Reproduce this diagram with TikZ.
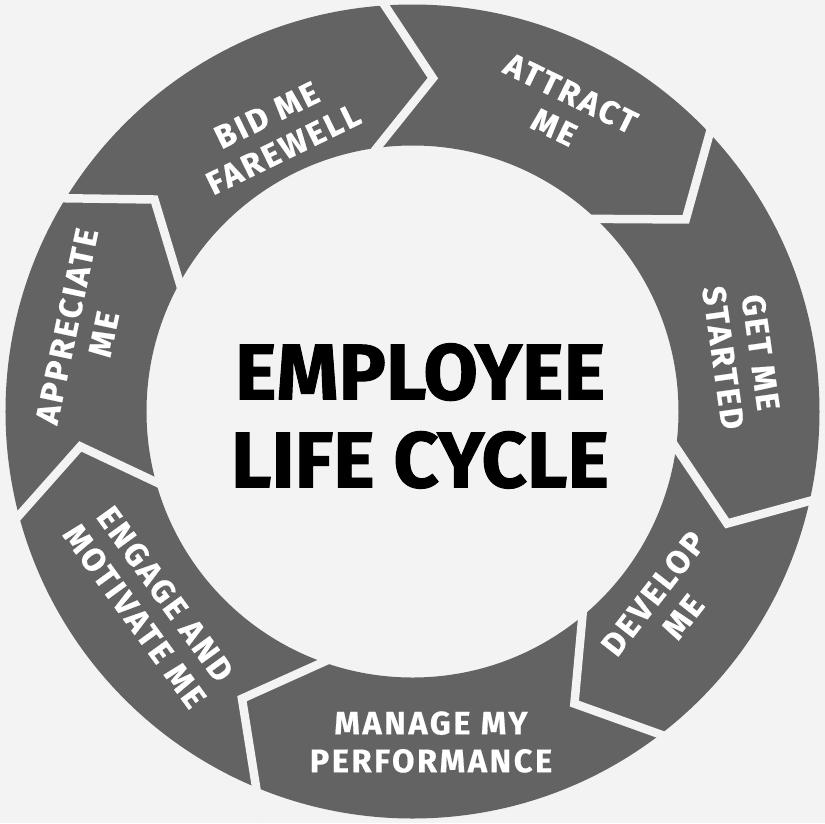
\documentclass[tikz,border=0pt]{standalone}
\usepackage{fontspec}
\setmainfont{Fira Sans}
\newfontfamily\segfont[LetterSpace=8,BoldFeatures={FakeBold=0.6}]{Fira Sans}
\newfontfamily\titlefont[BoldFeatures={FakeBold=1.2}]{Fira Sans}
\usetikzlibrary{calc}
\definecolor{ringgray}{HTML}{636363}
\definecolor{paper}{HTML}{F2F3F2}

\begin{document}
\begin{tikzpicture}[x=0.02cm,y=0.02cm,
seglabel/.style={text=white,align=center,inner sep=0pt,font=\segfont\bfseries\fontsize{18.5}{21.5}\selectfont},
titlelabel/.style={text=black,align=center,inner sep=0pt,font=\titlefont\bfseries\fontsize{45}{50}\selectfont},
gapline/.style={draw=paper,line width=0.17cm}]

\useasboundingbox (-412.5,-411.5) rectangle (412.5,411.5);
\fill[paper] (-412.5,-411.5) rectangle (412.5,411.5);

% ring
\fill[ringgray,even odd rule] (0,0) circle (407) (0,0) circle (266);

% chevron gaps: apex/outer/inner angles
\foreach \ap/\op/\ip in {86.5/93.9/97.7, 35.1/43.1/46.4, -19.6/-12.7/-7.8, -61/-52.5/-50.3,
  -120.7/-112.6/-109.6, -174/-165.2/-164.6, 140.6/148.4/151.1}
  \draw[gapline] ($(\ap:334)!1.4!(\op:407)$) -- (\ap:334) -- ($(\ap:334)!1.4!(\ip:266)$);

\draw (-137.5,279.5) node[seglabel,rotate=26] (farewell) {BID ME\\FAREWELL};
\draw (150,301.5) node[seglabel,rotate=-26] (attract) {ATTRACT\\ME};
\draw (329.5,56.5) node[seglabel,rotate=-82] (started) {GET ME\\STARTED};
\draw (255.5,-193.5) node[seglabel,rotate=52] (develop) {DEVELOP\\ME};
\draw (18.5,-330.5) node[seglabel] (perform) {MANAGE MY\\PERFORMANCE};
\draw (-262.5,-193.5) node[seglabel,rotate=-54] (engage) {ENGAGE AND\\MOTIVATE ME};
\draw (-327.5,81.5) node[seglabel,rotate=78] (appreciate) {APPRECIATE\\ME};

\draw (7.5,-4.5) node[titlelabel] (title) {EMPLOYEE\\LIFE CYCLE};

\end{tikzpicture}
\end{document}
